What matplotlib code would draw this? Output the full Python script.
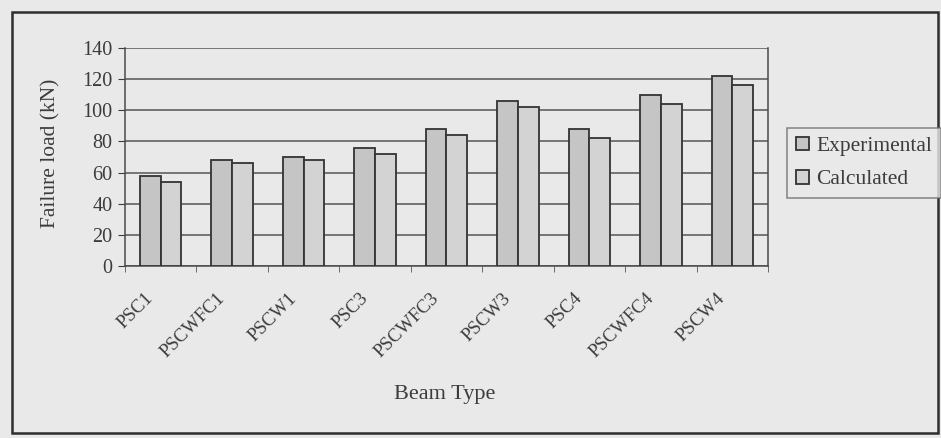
import matplotlib.pyplot as plt
import matplotlib.transforms as mtransforms
import numpy as np
from matplotlib.patches import Rectangle

plt.rcParams['font.family'] = ['Liberation Serif', 'DejaVu Serif']

beam_types = ['PSC1', 'PSCWFC1', 'PSCW1', 'PSC3', 'PSCWFC3',
              'PSCW3', 'PSC4', 'PSCWFC4', 'PSCW4']
experimental = [58, 68, 70, 76, 88, 106, 88, 110, 122]
calculated = [54, 66, 68, 72, 84, 102, 82, 104, 116]

paper = '#e9e9e9'
ink = '#3c3c3c'
W, H = 941, 438

fig = plt.figure(figsize=(W / 100, H / 100), dpi=100, facecolor=paper)
ax = fig.add_axes([125 / W, 1 - 266 / H, 643 / W, 218 / H])
ax.set_facecolor(paper)

# outer chart frame
fig.patches.append(Rectangle((12 / W, 5 / H), 926 / W, 421 / H,
                             transform=fig.transFigure, fill=False,
                             edgecolor='#2e2e2e', linewidth=1.8))

x = np.arange(len(beam_types))
w = 0.29
ax.bar(x - w / 2, experimental, w, color='#c5c5c5', edgecolor='#333333',
       linewidth=1.3, label='Experimental', zorder=3)
ax.bar(x + w / 2, calculated, w, color='#d3d3d3', edgecolor='#333333',
       linewidth=1.3, label='Calculated', zorder=3)

ax.set_xlim(-0.5, len(beam_types) - 0.5)
ax.set_ylim(0, 140)
ax.set_yticks(range(0, 141, 20))
ax.yaxis.grid(True, color='#555555', linewidth=1.1, zorder=0)
ax.tick_params(axis='y', labelsize=14.5, colors=ink, length=5,
               direction='out', pad=4)

ax.set_xticks(x)
ax.set_xticklabels(beam_types, rotation=45, ha='right',
                   rotation_mode='anchor', fontsize=13.5, color=ink)
ax.tick_params(axis='x', which='major', length=0, pad=17)
# nudge the slanted labels left of the group centres
offset = mtransforms.ScaledTranslation(-16 / 100, 0, fig.dpi_scale_trans)
for lbl in ax.get_xticklabels():
    lbl.set_transform(lbl.get_transform() + offset)
# category separators on the x axis
ax.set_xticks(np.arange(-0.5, len(beam_types)), minor=True)
ax.tick_params(axis='x', which='minor', length=4, direction='out',
               color='#555555')

for side in ['left', 'bottom', 'right']:
    ax.spines[side].set_color('#4a4a4a')
    ax.spines[side].set_linewidth(1.1)
ax.spines['top'].set_visible(False)

ax.set_ylabel('Failure load (kN)', fontsize=15.5, color=ink)
ax.yaxis.set_label_coords(-0.1, 0.518)
ax.set_xlabel('Beam Type', fontsize=16, color=ink)
ax.xaxis.set_label_coords(0.497, -0.545)

leg = fig.legend(loc='upper left', bbox_to_anchor=(787 / W, 1 - 128 / H),
                 bbox_transform=fig.transFigure, borderaxespad=0,
                 frameon=True, fancybox=False, fontsize=15.5,
                 handlelength=0.6, handleheight=0.6, handletextpad=0.35,
                 borderpad=0.4, labelspacing=0.65)
leg.get_frame().set_edgecolor('#6a6a6a')
leg.get_frame().set_facecolor(paper)
leg.get_frame().set_linewidth(1.1)
for t in leg.get_texts():
    t.set_color(ink)

fig.savefig('out.png', dpi=100, facecolor=paper)
